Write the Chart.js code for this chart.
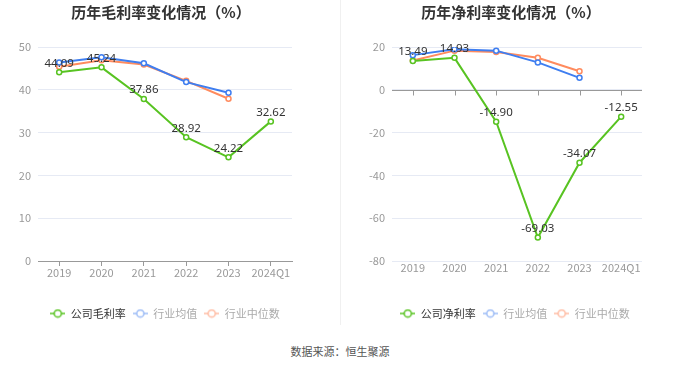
<!DOCTYPE html>
<html>
<head>
<meta charset="utf-8">
<script src="https://cdn.jsdelivr.net/npm/chart.js@4/dist/chart.umd.min.js"></script>
<style>
  body { margin: 0; background: #fff; width: 680px; height: 367px; position: relative; overflow: hidden; }
  .box { position: absolute; top: 0; width: 340px; height: 330px; }
  #divider { position: absolute; left: 340px; top: 0; width: 1px; height: 325px; background: #f0f0f0; }
  #source { position: absolute; left: 0; width: 680px; top: 343px; text-align: center;
            font: 11px 'Noto Sans CJK SC', sans-serif; color: #555; }
</style>
</head>
<body>
<div class="box" style="left:0"><canvas id="grossChart"></canvas></div>
<div class="box" style="left:340px"><canvas id="netChart"></canvas></div>
<div id="divider"></div>
<div id="source">数据来源：恒生聚源</div>
<script>
// Data
const years = ['2019', '2020', '2021', '2022', '2023', '2024Q1'];
const grossCompany = [44.09, 45.24, 37.86, 28.92, 24.22, 32.62];
const grossAvg = [46.4, 47.6, 46.2, 41.8, 39.3, null];
const grossMedian = [45.4, 46.9, 45.9, 42.1, 37.9, null];
const netCompany = [13.49, 14.93, -14.90, -69.03, -34.07, -12.55];
const netAvg = [16.2, 19.0, 18.3, 12.8, 5.6, null];
const netMedian = [13.7, 18.3, 17.7, 15.0, 8.7, null];

const GREEN = '#58c322';
const BLUE = '#3f7ef0';
const ORANGE = '#ff8b5e';

Chart.defaults.font.family = "'Noto Sans CJK SC', 'Noto Sans', sans-serif";
Chart.defaults.animation = false;

// little "-O-" legend icon
function legendIcon(color) {
  const c = document.createElement('canvas');
  c.width = 15; c.height = 10;
  const g = c.getContext('2d');
  g.strokeStyle = color; g.lineWidth = 1.5;
  g.beginPath(); g.moveTo(0, 5); g.lineTo(15, 5); g.stroke();
  g.fillStyle = '#fff';
  g.beginPath(); g.arc(7.5, 5, 3.6, 0, Math.PI * 2); g.fill(); g.stroke();
  return c;
}

// panel title at a fixed centre, legend nudged sideways
const panelTitle = {
  id: 'panelTitle',
  afterLayout(chart, args, opts) {
    chart.legend.left += opts.legendShift;
    chart.legend.right += opts.legendShift;
  },
  afterDraw(chart, args, opts) {
    const ctx = chart.ctx;
    ctx.save();
    ctx.font = "bold 15px 'Noto Sans CJK SC', sans-serif";
    ctx.fillStyle = '#333';
    ctx.textAlign = 'center';
    ctx.textBaseline = 'middle';
    ctx.fillText(opts.text, opts.x, 12);
    ctx.restore();
  }
};

// value labels over the company series
const valueLabels = {
  id: 'valueLabels',
  afterDatasetsDraw(chart) {
    const ctx = chart.ctx;
    const meta = chart.getDatasetMeta(0);
    const data = chart.data.datasets[0].data;
    ctx.save();
    ctx.font = "11.5px 'Noto Sans', 'Noto Sans CJK SC', sans-serif";
    ctx.fillStyle = '#333';
    ctx.textAlign = 'center';
    ctx.textBaseline = 'bottom';
    meta.data.forEach((pt, i) => {
      ctx.fillText(data[i].toFixed(2), pt.x, pt.y - 3);
    });
    ctx.restore();
  }
};

// x axis line at zero with tick marks (net margin chart)
const zeroAxis = {
  id: 'zeroAxis',
  beforeDatasetsDraw(chart, args, opts) {
    if (!opts.on) return;
    const { ctx, scales: { x, y }, chartArea } = chart;
    const y0 = Math.round(y.getPixelForValue(0)) + 0.5;
    ctx.save();
    ctx.strokeStyle = '#999';
    ctx.lineWidth = 1;
    ctx.beginPath();
    ctx.moveTo(chartArea.left, y0);
    ctx.lineTo(chartArea.right, y0);
    years.forEach((_, i) => {
      const px = Math.round(x.getPixelForValue(i)) + 0.5;
      ctx.moveTo(px, y0);
      ctx.lineTo(px, y0 + 5);
    });
    ctx.stroke();
    ctx.restore();
  }
};

function series(label, data, color) {
  return {
    label, data,
    borderColor: color,
    backgroundColor: '#fff',
    borderWidth: 2,
    pointRadius: 2.5,
    pointBorderWidth: 1.5,
    pointBackgroundColor: '#fff',
    tension: 0,
  };
}

function makeChart(id, title, titleX, legendShift, names, sets, yMin, yMax, step, zeroLine, padRight, yWidth) {
  return new Chart(document.getElementById(id), {
    type: 'line',
    data: {
      labels: years,
      datasets: [
        series(names[0], sets[0], GREEN),
        series(names[1], sets[1], BLUE),
        series(names[2], sets[2], ORANGE),
      ]
    },
    plugins: [valueLabels, zeroAxis, panelTitle],
    options: {
      responsive: true,
      maintainAspectRatio: false,
      layout: { padding: { left: 0, right: padRight, top: 47, bottom: 1 } },
      plugins: {
        zeroAxis: { on: zeroLine },
        panelTitle: { text: title, x: titleX, legendShift },
        tooltip: { enabled: false },
        title: { display: false },
        legend: {
          position: 'bottom',
          labels: {
            usePointStyle: true,
            pointStyleWidth: 15,
            font: { size: 11 },
            padding: 7,
            generateLabels() {
              return [
                { text: names[0], pointStyle: legendIcon(GREEN), fontColor: '#333', datasetIndex: 0, lineWidth: 0, strokeStyle: 'transparent', fillStyle: 'transparent' },
                { text: names[1], pointStyle: legendIcon('#9dbcf6'), fontColor: '#aaa', datasetIndex: 1, lineWidth: 0, strokeStyle: 'transparent', fillStyle: 'transparent' },
                { text: names[2], pointStyle: legendIcon('#ffbca3'), fontColor: '#aaa', datasetIndex: 2, lineWidth: 0, strokeStyle: 'transparent', fillStyle: 'transparent' },
              ];
            }
          }
        }
      },
      scales: {
        x: {
          offset: true,
          grid: {
            offset: false,
            drawOnChartArea: false,
            drawTicks: !zeroLine,
            tickLength: 5,
            color: '#999'
          },
          border: { display: !zeroLine, color: '#999' },
          ticks: { color: '#999', font: { size: 11 }, padding: 0, maxRotation: 0, autoSkip: false },
          afterFit(s) { s.height = 40; }
        },
        y: {
          min: yMin, max: yMax,
          ticks: { stepSize: step, color: '#999', font: { size: 11 }, padding: 7 },
          grid: { color: '#e6eaf4', drawTicks: false },
          border: { display: false },
          afterFit(s) { s.width = yWidth; }
        }
      }
    }
  });
}

makeChart('grossChart', '历年毛利率变化情况（%）', 161, 19,
  ['公司毛利率', '行业均值', '行业中位数'],
  [grossCompany, grossAvg, grossMedian], 0, 50, 10, false, 48, 38);

makeChart('netChart', '历年净利率变化情况（%）', 171, 24,
  ['公司净利率', '行业均值', '行业中位数'],
  [netCompany, netAvg, netMedian], -80, 20, 20, true, 38, 52);
</script>
</body>
</html>
